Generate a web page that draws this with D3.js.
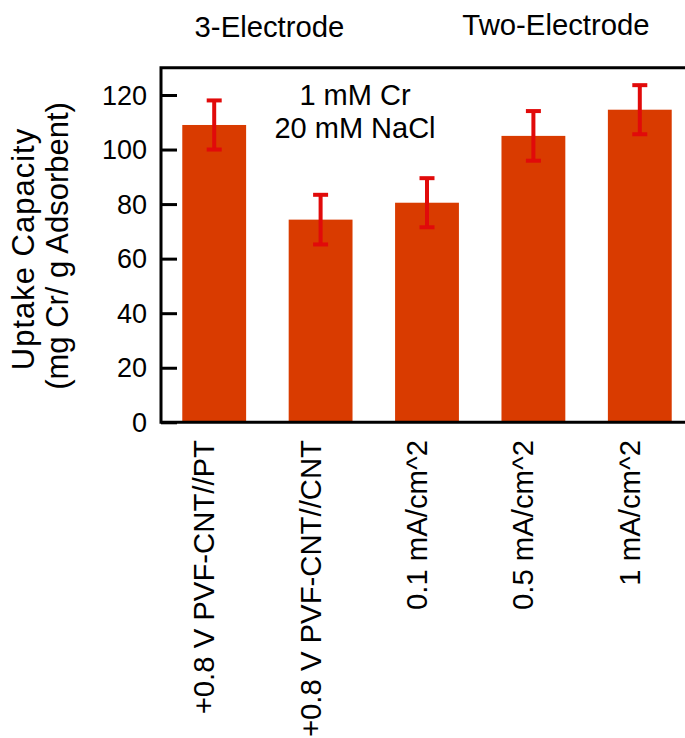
<!DOCTYPE html>
<html lang="en">

<head>
    <script src='https://d3js.org/d3.v7.min.js'></script>
</head>

<body style="margin:0;background:#fff">

    <style>
        svg text {
            fill: #000;
            font-family: "Liberation Sans", Arial, sans-serif;
        }
    </style>

    <script>
        // conditions along the bottom
        let labels = ['+0.8 V PVF-CNT//PT', '+0.8 V PVF-CNT//CNT', '0.1 mA/cm^2', '0.5 mA/cm^2', '1 mA/cm^2'];
        // uptake capacity, mg Cr / g adsorbent
        let uptake = [109, 74.3, 80.5, 105, 114.6];
        let uptakeErr = [9.0, 9.1, 9.0, 9.1, 9.0];
        let yTicks = [0, 20, 40, 60, 80, 100, 120];
        let groupLabels = ['3-Electrode', 'Two-Electrode'];
        let noteLines = ['1 mM Cr', '20 mM NaCl'];
        let titleLines = ['Uptake Capacity', '(mg Cr/ g Adsorbent)'];

        // note: "top" is taken by window.top, so prefix these
        var width = 685, height = 738;
        var plotLeft = 161, plotTop = 67.7, plotRight = 693, plotBottom = 422.3;

        var svg = d3.select("body")
            .append("svg")
            .attr("width", width)
            .attr("height", height);

        var x = d3.scaleBand()
            .domain(labels)
            .range([plotLeft, plotRight])
            .paddingInner(0.4)
            .paddingOuter(0.2);

        var y = d3.scaleLinear()
            .domain([0, 130])
            .range([plotBottom, plotTop]);

        var data = labels.map(function(d, i) {
            return { label: d, v: uptake[i], e: uptakeErr[i] };
        });

        // bars
        svg.selectAll("rect.bar")
            .data(data)
            .enter()
            .append("rect")
            .attr("class", "bar")
            .attr("x", function(d) { return x(d.label); })
            .attr("y", function(d) { return y(d.v); })
            .attr("width", x.bandwidth())
            .attr("height", function(d) { return y(0) - y(d.v); })
            .style("fill", "#d93b00");

        // error bars
        var err = svg.selectAll("g.err")
            .data(data)
            .enter()
            .append("g")
            .attr("class", "err")
            .style("stroke", "#e10a0a")
            .style("stroke-width", 4);

        err.append("line")
            .attr("x1", function(d) { return x(d.label) + x.bandwidth() / 2; })
            .attr("x2", function(d) { return x(d.label) + x.bandwidth() / 2; })
            .attr("y1", function(d) { return y(d.v + d.e); })
            .attr("y2", function(d) { return y(d.v - d.e); });

        [1, -1].forEach(function(s) {
            err.append("line")
                .attr("x1", function(d) { return x(d.label) + x.bandwidth() / 2 - 7.5; })
                .attr("x2", function(d) { return x(d.label) + x.bandwidth() / 2 + 7.5; })
                .attr("y1", function(d) { return y(d.v + s * d.e); })
                .attr("y2", function(d) { return y(d.v + s * d.e); });
        });

        // frame: top and bottom run off the right edge
        svg.append("path")
            .attr("d", "M" + (plotRight + 20) + "," + plotTop + "H" + plotLeft + "V" + plotBottom + "H" + (plotRight + 20))
            .style("fill", "none")
            .style("stroke", "#000")
            .style("stroke-width", 3);

        // y axis, ticks pointing inward
        var yAxis = svg.append("g")
            .attr("transform", "translate(" + plotLeft + ",0)")
            .call(d3.axisRight(y).tickValues(yTicks).tickSize(16).tickFormat(""));
        yAxis.select(".domain").remove();
        yAxis.selectAll(".tick line").style("stroke", "#000").style("stroke-width", 3);

        svg.selectAll("text.ytick")
            .data(yTicks)
            .enter()
            .append("text")
            .attr("class", "ytick")
            .attr("x", 147)
            .attr("y", function(d) { return y(d); })
            .attr("dy", "0.36em")
            .style("text-anchor", "end")
            .style("font-size", "27px")
            .text(function(d) { return d; });

        // category labels, rotated
        svg.selectAll("text.xlab")
            .data(labels)
            .enter()
            .append("text")
            .attr("class", "xlab")
            .attr("transform", function(d) {
                return "translate(" + (x(d) + x.bandwidth() / 2) + ",440) rotate(-90)";
            })
            .style("text-anchor", "end")
            .style("font-size", "29.3px")
            .text(function(d) { return d; });

        // y title
        svg.selectAll("text.ytitle")
            .data(titleLines)
            .enter()
            .append("text")
            .attr("class", "ytitle")
            .attr("transform", function(d, i) {
                return "translate(" + (34 + i * 34) + "," + (i == 0 ? 249 : 246) + ") rotate(-90)";
            })
            .style("text-anchor", "middle")
            .style("font-size", "31px")
            .style("letter-spacing", function(d, i) { return i == 0 ? "1px" : "0px"; })
            .text(function(d) { return d; });

        // group headings
        svg.selectAll("text.group")
            .data(groupLabels)
            .enter()
            .append("text")
            .attr("class", "group")
            .attr("x", function(d, i) { return i == 0 ? 269.5 : 556; })
            .attr("y", function(d, i) { return i == 0 ? 36.7 : 35; })
            .style("text-anchor", "middle")
            .style("font-size", "29.3px")
            .text(function(d) { return d; });

        // condition note
        svg.selectAll("text.note")
            .data(noteLines)
            .enter()
            .append("text")
            .attr("class", "note")
            .attr("x", 355)
            .attr("y", function(d, i) { return 105 + i * 33.3; })
            .style("text-anchor", "middle")
            .style("font-size", "29px")
            .text(function(d) { return d; });
    </script>
</body>

</html>
